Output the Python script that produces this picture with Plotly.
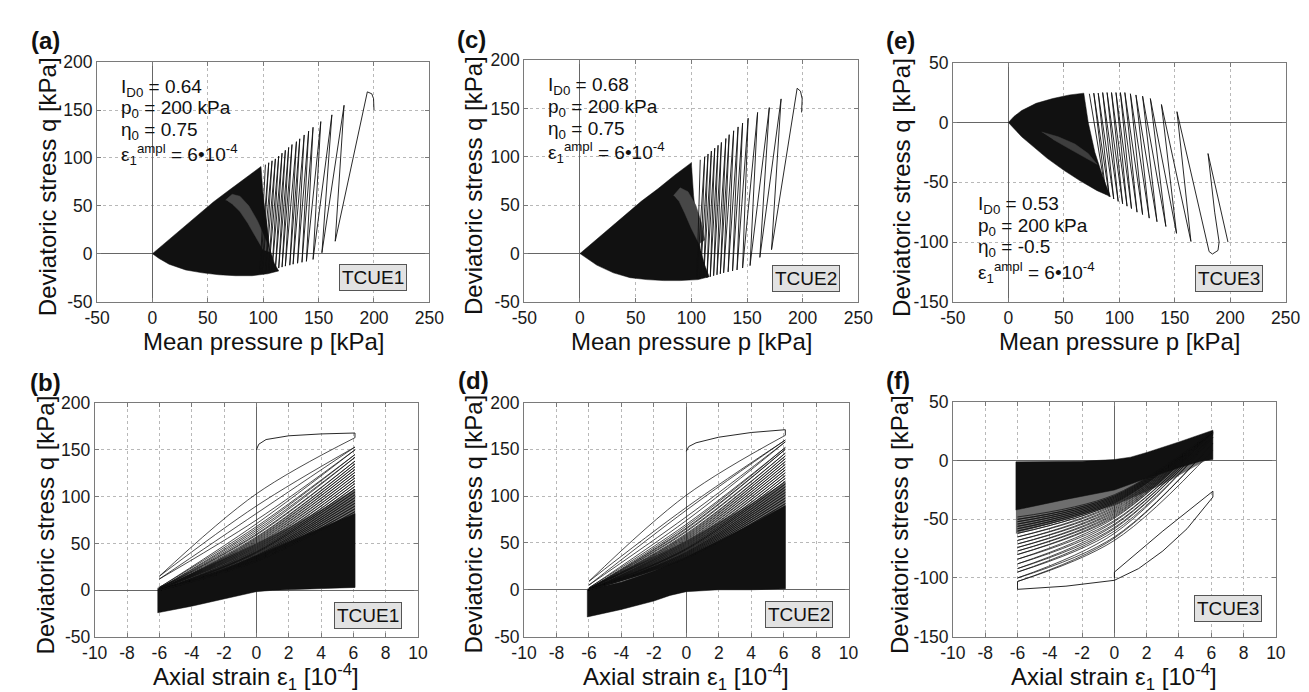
import plotly.graph_objects as go

W, H = 1309, 692
FONT = "Liberation Sans, Arial, sans-serif"

# ---------------- tick values / labels ----------------
p_ticks = [-50, 0, 50, 100, 150, 200, 250]
q_ticks_ac = [-50, 0, 50, 100, 150, 200]
q_ticks_e = [-150, -100, -50, 0, 50]
eps_ticks = [-10, -8, -6, -4, -2, 0, 2, 4, 6, 8, 10]
q_ticks_bd = [-50, 0, 50, 100, 150, 200]
q_ticks_f = [-150, -100, -50, 0, 50]

panel_letters = ["(a)", "(b)", "(c)", "(d)", "(e)", "(f)"]
test_names = ["TCUE1", "TCUE1", "TCUE2", "TCUE2", "TCUE3", "TCUE3"]
id0_values = ["0.64", "0.68", "0.53"]
eta0_values = ["0.75", "0.75", "-0.5"]

# ---------------- panel (a): TCUE1, p-q ----------------
a_dense_p = [0, 5, 12, 25, 40, 55, 70, 85, 98, 100, 103, 106, 110, 114, 104, 90, 75, 60, 45, 30, 15, 6, 0]
a_dense_q = [0, 5, 12, 25, 39, 54, 67, 80, 91, 60, 30, 5, -10, -18, -21, -23, -23, -22, -20, -17, -11, -5, 0]
a_halo_p = [66, 72, 79, 87, 95, 102, 106, 100, 93, 86, 79, 72, 68]
a_halo_q = [56, 62, 60, 50, 34, 15, 2, 4, 18, 32, 44, 52, 55]
a_path_p = [200, 199.6, 198, 194, 165, 173, 153, 162, 145, 152, 139, 145, 135, 141, 131, 137, 127, 133,
            124, 130, 120, 126, 117, 123, 114, 120, 111, 117, 108, 114, 105, 111, 102, 108, 99, 105, 97, 102]
a_path_q = [150, 162, 167, 169, 13, 155, 1, 145, -6, 138, -8, 132, -9, 128, -10, 124, -11, 120,
            -12, 117, -13, 114, -14, 111, -15, 108, -16, 105, -17, 102, -18, 99, -19, 97, -20, 95, -21, 93]

# ---------------- panel (b): TCUE1, eps-q ----------------
b_dense_e = [-6.1, -6.1, -4, -2, 0, 2, 4, 6.1, 6.1, 4, 2, 1, 0, -2, -4, -6.1]
b_dense_q = [-24, 2, 10, 22, 37, 52, 67, 82, 3, 2, 1, 0, -1.5, -9, -17, -24]
b_fan_e = [-6.1, -4, -2, 0, 2, 4, 6.1, 6.1]
b_fan_q = [3, 18, 34, 50, 67, 86, 108, 3]
b_first_e = [0, 0.15, 0.6, 2, 4, 6.1, 6.1]
b_first_q = [150, 156, 161, 165, 167, 168, 163]
# cycle branches: q at eps=+6 (hi), eps=-6 (lo), eps=0 on unloading / reloading
b_hi = [163, 153, 150, 145, 142, 138, 135, 132, 129, 126, 123, 120, 117, 114, 111, 108, 105, 102, 99, 96, 93, 90, 87, 84]
b_lo = [15, 12, 3, 2, 2, 2, 1, 1, 1, 1, 1, 1, 0, 0, 0, 0, 0, 0, 0, 0, 0, 0, 0, 0]
b_mid_un = [103, 82, 71, 66, 62, 59, 56, 54, 52, 50, 48, 46, 44, 42, 41, 40, 38, 37, 36, 35, 34, 33, 32, 31]
b_mid_re = [90, 75, 68, 64, 60, 57, 55, 53, 51, 49, 47, 45, 43, 41, 40, 39, 37, 36, 35, 34, 33, 32, 31]

# ---------------- panel (c): TCUE2, p-q ----------------
c_dense_p = [0, 5, 12, 25, 40, 55, 70, 85, 100, 102, 105, 108, 112, 116, 106, 90, 75, 60, 45, 30, 15, 6, 0]
c_dense_q = [0, 5, 12, 25, 39, 54, 67, 81, 94, 60, 30, 5, -12, -24, -27, -28, -28, -27, -25, -20, -12, -5, 0]
c_halo_p = [84, 90, 97, 104, 109, 112, 107, 100, 94, 89, 86]
c_halo_q = [60, 68, 64, 50, 32, 14, 10, 26, 42, 54, 58]
c_path_p = [199, 199.5, 198, 195, 172, 180.6, 161.5, 170, 152.7, 159.5, 146, 151, 141, 146, 137, 142,
            133, 138, 129, 134, 126, 131, 123, 127, 120, 124, 117, 121, 114, 118, 111, 115, 108, 112, 105, 108]
c_path_q = [146, 160, 168, 171, 4, 160, -4, 151, -12.5, 146, -15, 140, -17, 135, -18, 131,
            -19, 127, -20, 123, -21, 119, -22, 115, -23, 112, -24, 109, -25, 106, -25, 103, -26, 100, -26, 97]

# ---------------- panel (d): TCUE2, eps-q ----------------
d_dense_e = [-6.1, -6.1, -4, -2, 0, 2, 4, 6.1, 6.1, 4, 2, 1, 0, -1, -2, -4, -6.1]
d_dense_q = [-29, 0, 8, 20, 35, 52, 70, 90, 1, 0, 0, -1, -2, -6, -12, -21, -29]
d_fan_e = [-6.1, -4, -2, 0, 2, 4, 6.1, 6.1]
d_fan_q = [1, 18, 35, 52, 72, 92, 115, 1]
d_first_e = [0, 0.15, 0.6, 2, 4, 6.1, 6.1]
d_first_q = [148, 153, 157, 163, 168, 171, 165]
d_hi = [165, 160, 158, 152, 150, 146, 143, 140, 137, 134, 131, 128, 125, 122, 119, 116, 113, 110, 107, 104, 101, 98, 95, 92]
d_lo = [9, 5, 2, 1, 1, 1, 1, 1, 1, 0, 0, 0, 0, 0, 0, 0, 0, 0, 0, 0, 0, 0, 0, 0]
d_mid_un = [101, 85, 74, 68, 65, 62, 59, 57, 55, 53, 51, 49, 47, 45, 44, 43, 41, 40, 39, 38, 37, 36, 35, 34]
d_mid_re = [88, 78, 70, 66, 63, 60, 58, 56, 54, 52, 50, 48, 46, 44, 43, 42, 40, 39, 38, 37, 36, 35, 34]

# ---------------- panel (e): TCUE3, p-q ----------------
e_dense_p = [0, 5, 12, 25, 40, 55, 68, 72, 78, 85, 92, 80, 65, 50, 35, 22, 12, 5, 0]
e_dense_q = [0, 5, 10, 16, 20, 23, 24.5, 0, -25, -45, -62, -57, -49, -40, -30, -20, -12, -5, 0]
e_halo_p = [30, 45, 60, 72, 80, 70, 55, 40]
e_halo_q = [-8, -12, -18, -26, -35, -30, -22, -14]
e_path_p = [198, 180, 186, 190, 189, 184, 181, 152, 164.6, 138, 151.6, 128, 142, 121, 134, 115, 127,
            110, 121, 105, 116, 101, 111, 97, 107, 93, 103, 89, 99, 85, 95, 81, 91, 77, 88, 73]
e_path_q = [-100, -26, -75, -100, -107, -110, -108, 9, -99.5, 15, -92.7, 20, -87, 22, -83, 23, -80,
            24, -77, 25, -75, 25, -72, 25, -70, 25, -68, 25, -66, 25, -64, 24.5, -62, 24.5, -60, 24]

# ---------------- panel (f): TCUE3, eps-q ----------------
f_dense_e = [-6.1, -6.1, -2, 0, 1, 2, 4, 6.1, 6.1, 5.5, 4, 2, 0, -3, -6.1]
f_dense_q = [-42, -1, -0.5, 1, 3, 7, 16, 26, 1, 0, -6, -15, -25, -33, -42]
f_fan_e = [-6.1, -3, 0, 3, 5.6, -6.1]
f_fan_q = [-62, -50, -38, -20, 0, -42]
f_first_e = [0, 0, 3, 6.1, 6.1, 4.5, 3, 1.5, 0, -3, -6, -6]
f_first_q = [-100, -95, -60, -26, -31, -58, -77, -92, -102, -107, -109.7, -103]
f_hi = [9, 15, 20, 22, 23, 24, 25, 25, 25, 25, 25, 25, 25, 25, 25, 25, 25, 25, 25, 25]
f_lo = [-103, -100, -95, -92, -88, -84, -80, -77, -74, -71, -68, -65, -62, -60, -58, -56, -54, -52, -50, -48]
f_mid_un = [-68, -65, -60, -57, -54, -51, -48, -46, -44, -42, -40, -38, -36, -35, -34, -33, -32, -31, -30, -29]
f_mid_re = [-66, -62, -58, -55, -52, -49, -47, -45, -43, -41, -39, -37, -36, -35, -34, -33, -32, -31, -30]

# ---------------- layout geometry (pixels) ----------------
boxes = {
    "a": (77.7, 417.3, 45.5, 292.0),
    "b": (75.3, 405.7, 396.5, 637.5),
    "c": (514.3, 855.7, 43.5, 292.3),
    "d": (514.0, 845.7, 396.0, 637.0),
    "e": (952.3, 1292.3, 46.0, 292.3),
    "f": (952.3, 1282.3, 395.5, 637.0),
}


def px(x):
    return x / W


def py(y):
    return 1 - y / H


fig = go.Figure()
INK = "#111111"

axis_ids = {"a": 1, "b": 2, "c": 3, "d": 4, "e": 5, "f": 6}


def ax(k):
    n = axis_ids[k]
    return ("x" if n == 1 else f"x{n}"), ("y" if n == 1 else f"y{n}")


def poly(k, xs, ys, color):
    xa, ya = ax(k)
    fig.add_trace(go.Scatter(x=xs, y=ys, xaxis=xa, yaxis=ya, mode="lines", fill="toself",
                             fillcolor=color, line=dict(color=color, width=0.5),
                             hoverinfo="skip", showlegend=False))


def path(k, xs, ys, shape="linear", width=0.9):
    xa, ya = ax(k)
    fig.add_trace(go.Scatter(x=xs, y=ys, xaxis=xa, yaxis=ya, mode="lines",
                             line=dict(color=INK, width=width, shape=shape),
                             hoverinfo="skip", showlegend=False))


def branches(k, hi, lo, mid_un, mid_re, e_lo=-6.0, e_hi=6.1):
    # unloading (hi -> lo) and reloading (lo -> next hi) branches of each strain cycle
    xs, ys = [], []
    for i in range(len(lo)):
        xs += [e_hi, 0, e_lo, None]
        ys += [hi[i], mid_un[i], lo[i], None]
        if i < len(mid_re):
            xs += [e_lo, 0, e_hi, None]
            ys += [lo[i], mid_re[i], hi[i + 1], None]
    path(k, xs, ys, shape="spline", width=0.75)


# p-q panels
poly("a", a_dense_p, a_dense_q, INK)
poly("a", a_halo_p, a_halo_q, "#474747")
path("a", a_path_p, a_path_q)
poly("c", c_dense_p, c_dense_q, INK)
poly("c", c_halo_p, c_halo_q, "#474747")
path("c", c_path_p, c_path_q)
poly("e", e_dense_p, e_dense_q, INK)
poly("e", e_halo_p, e_halo_q, "#3e3e3e")
path("e", e_path_p, e_path_q)

# strain panels
poly("b", b_fan_e, b_fan_q, "#6e6e6e")
poly("b", b_dense_e, b_dense_q, INK)
path("b", b_first_e, b_first_q)
branches("b", b_hi, b_lo, b_mid_un, b_mid_re)
poly("d", d_fan_e, d_fan_q, "#6e6e6e")
poly("d", d_dense_e, d_dense_q, INK)
path("d", d_first_e, d_first_q)
branches("d", d_hi, d_lo, d_mid_un, d_mid_re)
poly("f", f_fan_e, f_fan_q, "#6e6e6e")
poly("f", f_dense_e, f_dense_q, INK)
path("f", f_first_e, f_first_q)
branches("f", f_hi, f_lo, f_mid_un, f_mid_re)

ranges = {
    "a": ([-50, 250], [-50, 200], p_ticks, q_ticks_ac),
    "b": ([-10, 10], [-50, 200], eps_ticks, q_ticks_bd),
    "c": ([-50, 250], [-50, 200], p_ticks, q_ticks_ac),
    "d": ([-10, 10], [-50, 200], eps_ticks, q_ticks_bd),
    "e": ([-50, 250], [-150, 50], p_ticks, q_ticks_e),
    "f": ([-10, 10], [-150, 50], eps_ticks, q_ticks_f),
}

layout_axes = {}
for k in "abcdef":
    n = axis_ids[k]
    xa, ya = ax(k)
    xr, yr, xt, yt = ranges[k]
    x0, x1, y0, y1 = boxes[k]
    common = dict(showline=True, mirror="all", linecolor="#7a7a7a", linewidth=1,
                  ticks="inside", ticklen=4, tickcolor="#7a7a7a", tickwidth=1,
                  showgrid=True, gridcolor="#b8b8b8", griddash="dot", gridwidth=1,
                  zeroline=True, zerolinecolor="#666666", zerolinewidth=1,
                  tickfont=dict(family=FONT, size=17.5, color="#1a1a1a"),
                  fixedrange=True, layer="below traces")
    layout_axes["xaxis" if n == 1 else f"xaxis{n}"] = dict(
        common, domain=[px(x0), px(x1)], range=xr, tickvals=xt, ticktext=[str(v) for v in xt],
        anchor=ya)
    layout_axes["yaxis" if n == 1 else f"yaxis{n}"] = dict(
        common, domain=[py(y1), py(y0)], range=yr, tickvals=yt, ticktext=[str(v) for v in yt],
        anchor=xa)

fig.update_layout(**layout_axes)

ann = []


def text(x, y, s, size=19, anchor="left", angle=0, **kw):
    ann.append(dict(x=px(x), y=py(y), xref="paper", yref="paper", text=s, showarrow=False,
                    xanchor=anchor, yanchor="middle", textangle=angle,
                    font=dict(family=FONT, size=size, color="#111111"), **kw))


# panel letters
letter_pos = {"a": (25, 23), "b": (25, 375), "c": (460, 22), "d": (462, 373), "e": (899, 23), "f": (896, 373)}
for k, lab in zip("abcdef", panel_letters):
    x, y = letter_pos[k]
    text(x, y, "<b>" + lab + "</b>", size=24, anchor="center")

# axis titles
for k in "ace":
    x0, x1, y0, y1 = boxes[k]
    text((x0 + x1) / 2, 333, "Mean pressure p [kPa]", size=24, anchor="center")
for k in "bdf":
    x0, x1, y0, y1 = boxes[k]
    text((x0 + x1) / 2, 679, "Axial strain ε<sub>1</sub> [10<sup>-4</sup>]", size=24, anchor="center")
ytitle_x = {"a": 27, "c": 463, "e": 899, "b": 25, "d": 462, "f": 897}
for k in "abcdef":
    x0, x1, y0, y1 = boxes[k]
    text(ytitle_x[k], (y0 + y1) / 2 + 5, "Deviatoric stress q [kPa]", size=24, anchor="center", angle=-90)

# test name boxes
name_pos = {"a": (360, 267.5), "b": (354.5, 615), "c": (801.7, 268.3), "d": (794.5, 614),
            "e": (1234.5, 268), "f": (1233.5, 608.5)}
for k, nm in zip("abcdef", test_names):
    x, y = name_pos[k]
    text(x, y, nm, size=19, anchor="center", bgcolor="#e2e2e2", bordercolor="#555555",
         borderwidth=1, borderpad=2)

# parameter text blocks
block = {"a": (100, [71.7, 94, 116.7, 140]), "c": (536.7, [70, 92.7, 115, 138]),
         "e": (976.3, [192.7, 215, 237.3, 261])}
for (k, (x, ys)), idv, etv in zip(block.items(), id0_values, eta0_values):
    text(x, ys[0], "I<sub>D0</sub> = " + idv)
    text(x, ys[1], "p<sub>0</sub> = 200 kPa")
    text(x, ys[2], "η<sub>0</sub> = " + etv)
    text(x, ys[3] + 1, "ε<sub>1</sub><sup>ampl</sup> = 6•10<sup>-4</sup>")

fig.update_layout(width=W, height=H, margin=dict(l=0, r=0, t=0, b=0),
                  paper_bgcolor="white", plot_bgcolor="white", annotations=ann,
                  showlegend=False)

fig.write_html("out.html")
